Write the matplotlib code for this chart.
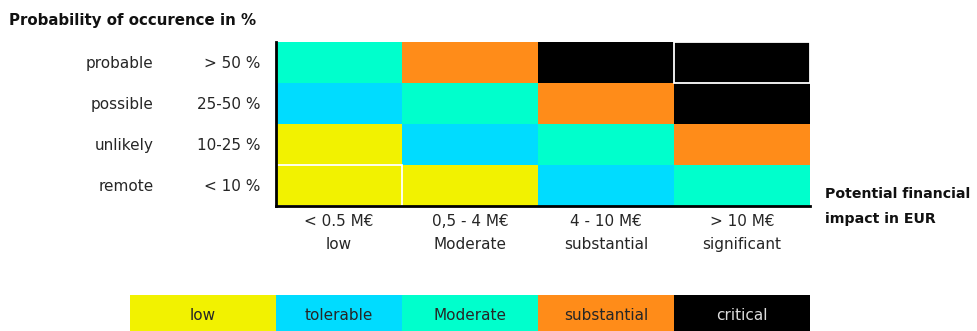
import matplotlib
matplotlib.use("Agg")
import matplotlib.pyplot as plt
from matplotlib.colors import ListedColormap
from matplotlib.patches import Rectangle
import numpy as np

plt.rcParams['font.family'] = ['DejaVu Sans']

# risk classes, low -> critical
levels = ['low', 'tolerable', 'Moderate', 'substantial', 'critical']
level_colors = ['#f2f200', '#00dcff', '#00ffcc', '#ff8c19', '#000000']

prob_names = ['probable', 'possible', 'unlikely', 'remote']
prob_ranges = ['> 50 %', '25-50 %', '10-25 %', '< 10 %']
impact_ranges = ['< 0.5 M€', '0,5 - 4 M€', '4 - 10 M€', '> 10 M€']
impact_names = ['low', 'Moderate', 'substantial', 'significant']

# rows top -> bottom, index into levels
matrix = [
    [2, 3, 4, 4],
    [1, 2, 3, 4],
    [0, 1, 2, 3],
    [0, 0, 1, 2],
]
# highlighted cells (row, col)
marked = [(3, 0), (0, 3)]

W, H = 977, 331
fig = plt.figure(figsize=(W / 100, H / 100), dpi=100)
fs = 11
txt = '#262626'

x0 = 0.074  # first column is partly cut by the axis
ax = fig.add_axes([276 / W, 1 - 206 / H, (810 - 276) / W, 164 / H])
cmap = ListedColormap(level_colors)
grid = np.array(matrix)
ax.pcolormesh(np.arange(5), np.arange(5), grid[::-1], cmap=cmap, vmin=-0.5, vmax=4.5)
ax.set_xlim(x0, 4)
ax.set_ylim(0, 4)
for r, c in marked:
    ax.add_patch(Rectangle((max(c, x0), 3 - r), 1 - (x0 if c == 0 else 0), 1,
                           fill=False, edgecolor='white', lw=1.3, zorder=3))
for s in ['top', 'right']:
    ax.spines[s].set_visible(False)
for s in ['left', 'bottom']:
    ax.spines[s].set_linewidth(2)
    ax.spines[s].set_zorder(5)
ax.set_yticks([])
xt = [(x0 + 1) / 2, 1.5, 2.5, 3.5]
ax.set_xticks(xt)
ax.set_xticklabels([a + '\n' + b for a, b in zip(impact_ranges, impact_names)],
                   fontsize=fs, color=txt, linespacing=1.65)
ax.tick_params(axis='x', length=0, pad=6)

for i, (n, rg) in enumerate(zip(prob_names, prob_ranges)):
    y = 3.5 - i
    ax.text(-0.825, y - 0.03, n, ha='right', va='center', fontsize=fs, color=txt)
    ax.text(-0.04, y - 0.03, rg, ha='right', va='center', fontsize=fs, color=txt)

fig.text(9 / W, 1 - 21 / H, 'Probability of occurence in %', ha='left', va='center',
         fontsize=10.8, fontweight='bold', color='#111111')
fig.text(825 / W, 1 - 206 / H, 'Potential financial\nimpact in EUR', ha='left', va='center',
         fontsize=10.2, fontweight='bold', color='#111111', linespacing=2.0)

# colour key below the matrix, sharing the column coordinates
lax = fig.add_axes([130 / W, 0, 680 / W, 36 / H])
edges = [-1, x0, 1, 2, 3, 4]
lax.pcolormesh(edges, [0, 1], np.arange(5)[None, :], cmap=cmap, vmin=-0.5, vmax=4.5)
lax.set_xlim(-1, 4)
lax.set_ylim(0, 1)
lax.axis('off')
for i, name in enumerate(levels):
    cx = (edges[i] + edges[i + 1]) / 2
    lax.text(cx, 0.42, name, ha='center', va='center', fontsize=fs,
             color='#dddddd' if i == 4 else txt)

fig.savefig('out.png', dpi=100)
